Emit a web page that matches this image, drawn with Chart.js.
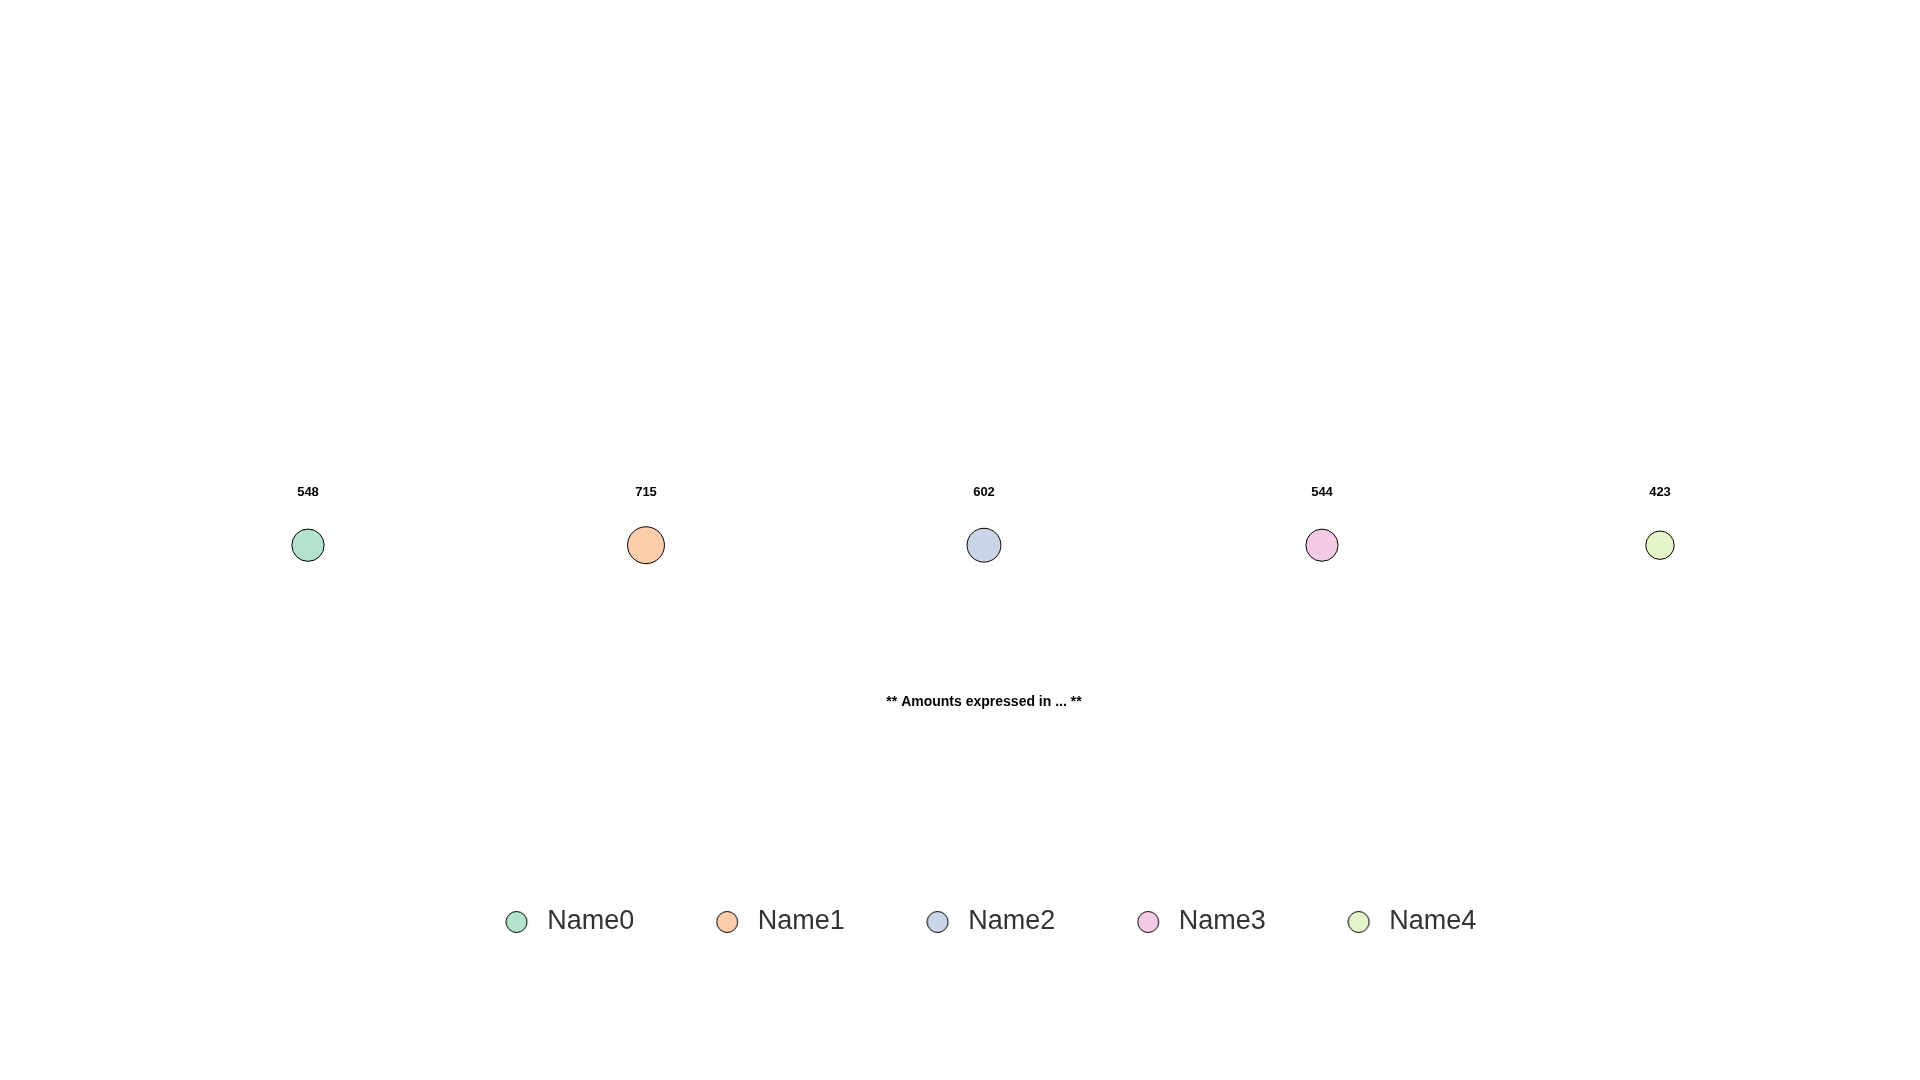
<!DOCTYPE html>
<html>
<head>
<meta charset="utf-8">
<script src="https://cdn.jsdelivr.net/npm/chart.js@4.4.1/dist/chart.umd.min.js"></script>
<style>
html, body { margin: 0; padding: 0; background: #ffffff; }
#wrap { width: 1920px; height: 1080px; }
</style>
</head>
<body>
<div id="wrap"><canvas id="c" width="1920" height="1080"></canvas></div>
<script>
// ---- data ----
const categories = ['Name0', 'Name1', 'Name2', 'Name3', 'Name4'];
const values = [548, 715, 602, 544, 423];
const colors = ['#b3e2cd', '#fdcdac', '#cbd5e8', '#f4cae4', '#e6f5c9'];
const footnote = '** Amounts expressed in ... **';

// ---- styling ----
const RADIUS_SCALE = 0.69;   // bubble radius = k * sqrt(value)
const LABEL_OFFSET = 53;     // value label above bubble center

Chart.defaults.font.family = '"Liberation Sans", Arial, Helvetica, sans-serif';

function legendMarker(color) {
  const c = document.createElement('canvas');
  c.width = 30; c.height = 24;
  const g = c.getContext('2d');
  g.beginPath();
  g.arc(11.4, 12, 10.5, 0, Math.PI * 2);
  g.fillStyle = color;
  g.fill();
  g.lineWidth = 1;
  g.strokeStyle = '#000000';
  g.stroke();
  return c;
}
const markers = colors.map(legendMarker);

const valueLabels = {
  id: 'valueLabels',
  afterDatasetsDraw(chart) {
    const ctx = chart.ctx;
    ctx.save();
    ctx.font = 'bold 13px "Liberation Sans", Arial, sans-serif';
    ctx.fillStyle = '#000000';
    ctx.textAlign = 'center';
    ctx.textBaseline = 'middle';
    chart.data.datasets.forEach((ds, i) => {
      const meta = chart.getDatasetMeta(i);
      meta.data.forEach((pt) => {
        ctx.fillText(String(values[i]), pt.x, pt.y - LABEL_OFFSET);
      });
    });
    ctx.restore();
  }
};

const datasets = categories.map((name, i) => ({
  label: name,
  data: [{ x: name, y: 0 }],
  backgroundColor: colors[i],
  borderColor: '#000000',
  borderWidth: 1,
  pointRadius: RADIUS_SCALE * Math.sqrt(values[i]),
  pointHoverRadius: RADIUS_SCALE * Math.sqrt(values[i]),
  pointStyle: 'circle'
}));

new Chart(document.getElementById('c'), {
  type: 'scatter',
  data: { labels: categories, datasets },
  plugins: [valueLabels],
  options: {
    responsive: false,
    animation: false,
    devicePixelRatio: 1,
    events: [],
    layout: { padding: { top: 430, bottom: 134.5, left: 139, right: 76 } },
    plugins: {
      tooltip: { enabled: false },
      legend: {
        position: 'bottom',
        labels: {
          usePointStyle: true,
          boxWidth: 27,
          boxHeight: 13,
          padding: 83,
          color: '#333333',
          font: { size: 27 },
          generateLabels: (chart) => chart.data.datasets.map((ds, i) => ({
            text: ds.label,
            fillStyle: ds.backgroundColor,
            strokeStyle: '#000000',
            lineWidth: 1,
            pointStyle: markers[i],
            hidden: false,
            datasetIndex: i,
            fontColor: '#333333'
          }))
        }
      }
    },
    scales: {
      x: {
        type: 'category',
        labels: categories,
        offset: true,
        grid: { display: false, drawTicks: false },
        border: { display: false },
        ticks: { display: false },
        title: {
          display: true,
          text: footnote,
          color: '#000000',
          font: { size: 14, weight: 'bold' },
          padding: { top: 33.3, bottom: 115 }
        }
      },
      y: {
        position: 'right',
        min: -1,
        max: 1,
        grid: { display: false, drawTicks: false },
        border: { display: false },
        ticks: { display: false },
        afterFit: (s) => { s.width = 15; }
      }
    }
  }
});
</script>
</body>
</html>
